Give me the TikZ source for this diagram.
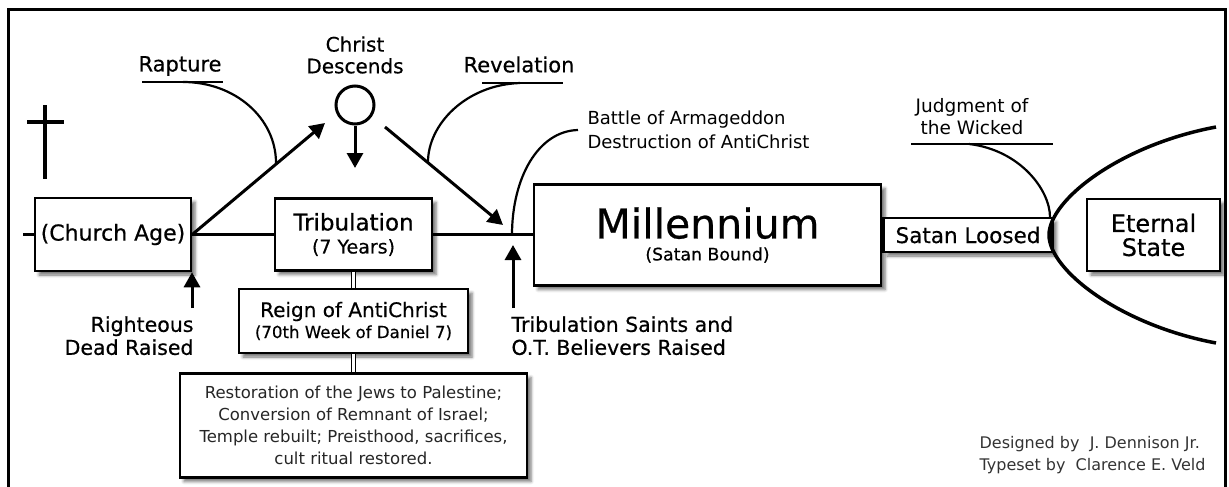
\documentclass[tikz,border=0pt]{standalone}
\usepackage{fontspec}
\setmainfont{DejaVu Sans}[FakeBold=0.5]
\newfontfamily\plainfont{DejaVu Sans}
\usetikzlibrary{positioning,arrows.meta,shadows.blur}
\newcommand{\fsz}[2]{\fontsize{#1}{#2}\selectfont}
\tikzset{
  box/.style={draw, line width=2.5pt, fill=white, align=center,
    blur shadow={shadow xshift=4pt, shadow yshift=-4pt, shadow blur radius=3pt, shadow opacity=55}},
  curve/.style={line width=2.2pt},
  uline/.style={line width=2.5pt},
  link/.style={double, double distance=3pt, line width=1.2pt},
}

\begin{document}
\begin{tikzpicture}[x=1pt,y=-1pt,>={Triangle[length=15pt,width=16pt]},line width=3pt,
  node distance=16pt,every node/.style={inner sep=0pt,font=\fsz{20.5}{23}}]
  \useasboundingbox (0,0) rectangle (1229,487);
  \draw (8,487) -- (8,10) -- (1225,10) -- (1225,487);
  \draw[line width=4pt] (45,105) -- (45,179) (27,122) -- (64,122);

  % the time line
  \node[box, minimum width=156pt, minimum height=73pt, font=\fsz{22}{24}] (church) at (113,234.5) {(Church Age)};
  \node[box, minimum width=157pt, minimum height=72pt, font=\fsz{23}{23}] (trib) at (353.5,234.5) {Tribulation\\{\fsz{19}{23}(7 Years)}};
  \node[box, minimum width=347pt, minimum height=101pt, font=\fsz{41}{22}] (mill) at (707.5,235) {Millennium\\{\fsz{17.3}{22}(Satan Bound)}};
  \node[box, minimum width=169pt, minimum height=34pt, font=\fsz{21.5}{24}, right=0pt of mill] (satan) {Satan Loosed};
  \node[box, minimum width=133pt, minimum height=72pt, font=\fsz{24}{24}, right=32pt of satan] (eternal) {Eternal\\State};

  % under the tribulation
  \node[box, minimum width=229pt, minimum height=64pt, font=\fsz{20}{21}, below=16pt of trib] (reign) {Reign of AntiChrist\\{\fsz{16.6}{21}(70th Week of Daniel 7)}};
  \node[box, minimum width=347pt, minimum height=104pt, font=\plainfont\fsz{16.5}{22}, text=black!85, below=18pt of reign] (events)
    {Restoration of the Jews to Palestine;\\Conversion of Remnant of Israel;\\Temple rebuilt; Preisthood, sacrifices,\\cult ritual restored.};

  % labels
  \node[font=\fsz{21}{23}] (rapture) at (180,66) {Rapture};
  \node[font=\fsz{20}{21.7}, align=center] (christ) at (355,55) {Christ\\Descends};
  \node[circle, draw, minimum size=38pt] (circ) at (355,105) {};
  \node[font=\fsz{21}{23}] (revel) at (519,64.5) {Revelation};
  \node[font=\plainfont\fsz{18}{24}, align=left, anchor=west] (battle) at (586,130) {Battle of Armageddon\\Destruction of AntiChrist};
  \node[font=\plainfont\fsz{18.5}{22.7}, align=center] (judg) at (972,116.6) {Judgment of\\the Wicked};
  \node[align=right, anchor=east] (raised) at (195,335.7) {Righteous\\Dead Raised};
  \node[align=left, anchor=west] (saints) at (510,335.7) {Tribulation Saints and\\O.T. Believers Raised};
  \node[font=\plainfont\fsz{16}{22.4}, align=left, anchor=east, text=black!80] (credit) at (1207,455.3)
    {Designed by\ \ J. Dennison Jr.\\Typeset by\ \ Clarence E. Veld};

  % connectors
  \coordinate (start) at (23,234.5);
  \coordinate (rapt) at (325,123);
  \coordinate (drop) at (355,168);
  \coordinate (revA) at (385,127);
  \coordinate (revB) at (503,225);
  \coordinate (rfoot) at (192,308);
  \coordinate (sfoot) at (513,308);
  \coordinate (stip) at (513,245);
  \draw (start) -- (church.west);
  \draw (church.east) -- (trib.west);
  \draw (trib.east) -- (trib.east -| mill.west);
  \draw[->] (church.east) -- (rapt);
  \draw[->] (circ.south) -- (drop);
  \draw[->] (revA) -- (revB);
  \draw[->] (rfoot) -- (rfoot |- church.south);
  \draw[->] (sfoot) -- (stip);
  \draw[link] (trib.south) -- (reign.north);
  \draw[link] (reign.south) -- (events.north);

  % under-rules and their curves
  \draw[uline] (142,82) -- (223,82);
  \draw[curve] (183,82) .. controls (235,82) and (276,118) .. (276,163);
  \draw[uline] (482,83) -- (563,83);
  \draw[curve] (428,162) .. controls (428,125) and (465,85) .. (520,83);
  \draw[curve] (512,235) .. controls (512,178) and (538,131) .. (578,130);
  \draw[uline] (911,144) -- (1053,144);
  \draw[curve] (969,144) .. controls (1020,150) and (1050,190) .. (1050,217);
  \draw[line width=3.5pt] (1216,127) .. controls (1120,145) and (1049,200) .. (1049,235)
    .. controls (1049,270) and (1120,325) .. (1216,343);
\end{tikzpicture}
\end{document}
